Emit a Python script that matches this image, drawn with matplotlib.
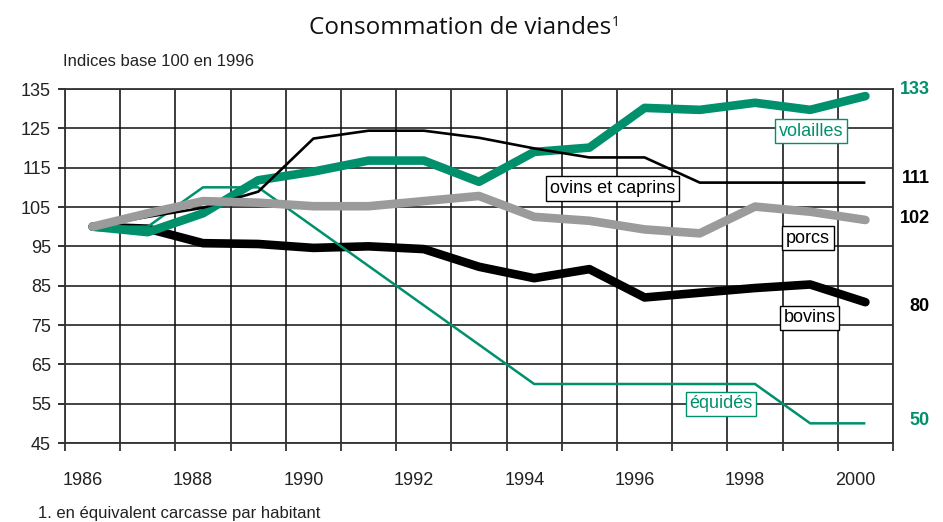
import matplotlib
matplotlib.use("Agg")
import matplotlib.pyplot as plt
from matplotlib.ticker import FixedLocator, NullFormatter

# ---------------- data ----------------
years = list(range(1986, 2001))
volailles = [100, 98.6, 103.4, 111.8, 114.0, 116.8, 116.8, 111.4, 119.0, 120.1, 130.2, 129.7, 131.5, 129.7, 133.2]
ovins = [100, 102.5, 104.8, 108.9, 122.4, 124.4, 124.4, 122.6, 119.9, 117.6, 117.6, 111.2, 111.2, 111.2, 111.2]
porcs = [100, 103.4, 106.5, 106.1, 105.2, 105.2, 106.5, 107.8, 102.5, 101.5, 99.3, 98.3, 105.1, 103.8, 101.7]
bovins = [100, 99.5, 95.8, 95.6, 94.6, 95.0, 94.3, 89.8, 86.9, 89.2, 82.0, 83.2, 84.4, 85.3, 80.8]
equides = [100, 100, 110, 110, 100, 90, 80, 70, 60, 60, 60, 60, 60, 50, 50]

ytick_values = [45, 55, 65, 75, 85, 95, 105, 115, 125, 135]
xlabel_years = [1986, 1988, 1990, 1992, 1994, 1996, 1998, 2000]
end_labels = ["133", "111", "102", "80", "50"]

title = "Consommation de viandes"
subtitle = "Indices base 100 en 1996"
footnote = "1. en équivalent carcasse par habitant"

# ---------------- style ----------------
GREEN = "#00906c"
GRAY = "#9b9b9b"
BLACK = "#000000"
plt.rcParams["font.family"] = ["Liberation Sans", "DejaVu Sans"]

fig = plt.figure(figsize=(9.43, 5.22), dpi=100)
ax = fig.add_axes([65 / 943, 1 - 443 / 522, (893 - 65) / 943, (443 - 89) / 522])

ax.set_xlim(1985.5, 2000.5)
ax.set_ylim(45, 135)

grid_x = [y - 0.5 for y in years] + [years[-1] + 0.5]
ax.xaxis.set_major_locator(FixedLocator(grid_x))
ax.xaxis.set_major_formatter(NullFormatter())
ax.xaxis.set_minor_locator(FixedLocator([y - 0.18 for y in xlabel_years]))
ax.set_xticklabels([str(y) for y in xlabel_years], minor=True)
ax.tick_params(axis="x", which="major", length=6, width=1.3, color="#333333", direction="out")
ax.tick_params(axis="x", which="minor", length=0, pad=21, labelsize=13, labelcolor="#222222")

ax.set_yticks(ytick_values)
ax.set_yticklabels([str(v) for v in ytick_values])
ax.tick_params(axis="y", length=5, width=1.3, color="#222222", pad=5, labelsize=13, labelcolor="#222222")

ax.grid(axis="x", which="major", color="#3c3c3c", linewidth=1.4)
ax.grid(axis="y", which="major", color="#111111", linewidth=1.1)
ax.set_axisbelow(True)
for s in ax.spines.values():
    s.set_color("#333333")
    s.set_linewidth(1.3)

# ---------------- series ----------------
ax.plot(years, bovins, color=BLACK, lw=6.2, solid_capstyle="round", solid_joinstyle="round", zorder=3)
ax.plot(years, volailles, color=GREEN, lw=6.2, solid_capstyle="round", solid_joinstyle="round", zorder=3.1)
ax.plot(years, equides, color=GREEN, lw=1.8, solid_capstyle="butt", zorder=3.2)
ax.plot(years, ovins, color=BLACK, lw=1.9, solid_capstyle="butt", zorder=3.3)
ax.plot(years, porcs, color=GRAY, lw=6.2, solid_capstyle="round", solid_joinstyle="round", zorder=3.4)

# ---------------- in-chart labels ----------------
def boxed(x, y, txt, col):
    ax.text(x, y, txt, ha="center", va="center", fontsize=13, color=col, zorder=5,
            bbox=dict(boxstyle="square,pad=0.2", fc="white", ec=col, lw=1.0))

boxed(1999.02, 124.3, "volailles", GREEN)
boxed(1995.42, 109.7, "ovins et caprins", BLACK)
boxed(1998.96, 97.1, "porcs", BLACK)
boxed(1998.99, 76.8, "bovins", BLACK)
boxed(1997.38, 55.0, "équidés", GREEN)

end_y = [135.0, 112.2, 102.1, 79.7, 50.8]
end_col = [GREEN, BLACK, BLACK, BLACK, GREEN]
for lab, yy, cc in zip(end_labels, end_y, end_col):
    ax.text(2001.17, yy, lab, ha="right", va="center", fontsize=13, fontweight="bold",
            color=cc, clip_on=False)

# ---------------- titles ----------------
t = fig.text(460 / 943, 1 - 28 / 522, title, ha="center", va="center", fontsize=17.5,
             family=["Open Sans", "DejaVu Sans"], color="#111111")
fig.canvas.draw()
bb = t.get_window_extent(renderer=fig.canvas.get_renderer())
fig.text((bb.x1 + 1) / fig.bbox.width, (bb.y1 - 7) / fig.bbox.height, "1", ha="left", va="center",
         fontsize=10, family=["Open Sans", "DejaVu Sans"], color="#111111")

fig.text(63 / 943, 1 - 61.5 / 522, subtitle, ha="left", va="center", fontsize=12, color="#222222")
fig.text(38 / 943, 0.008, footnote, ha="left", va="baseline", fontsize=12, color="#222222")

fig.savefig("out.png", dpi=100)
